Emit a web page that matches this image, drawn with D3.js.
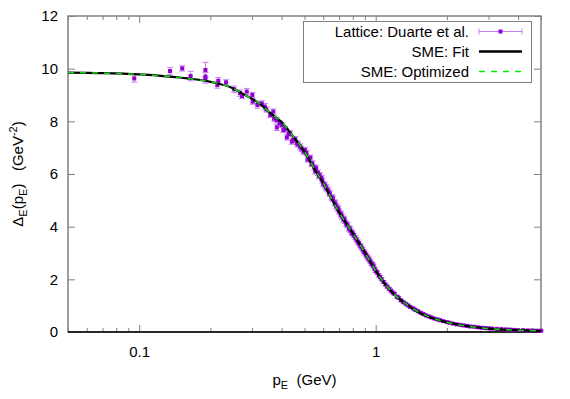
<!DOCTYPE html>
<html>
<head>
<meta charset="utf-8">
<script src="https://cdn.jsdelivr.net/npm/d3@7"></script>
<style>
  body { margin: 0; background: #fff; }
  text { font-family: "Liberation Sans", Arial, sans-serif; }
</style>
</head>
<body>
<script>
// Lattice data (p in GeV, value, error)
const latP = [0.0953, 0.135, 0.152, 0.165, 0.1906, 0.1906, 0.1906, 0.214, 0.216, 0.233, 0.252, 0.267, 0.272, 0.285,
  0.301, 0.302, 0.316, 0.330, 0.340, 0.358, 0.369, 0.382, 0.382, 0.401, 0.407, 0.421, 0.435, 0.442, 0.464, 0.479, 0.502,
  0.51, 0.52, 0.53, 0.54, 0.55, 0.56, 0.57, 0.58, 0.59, 0.60, 0.61, 0.62, 0.63, 0.64, 0.65, 0.66, 0.67, 0.68, 0.69,
  0.70, 0.71, 0.72, 0.73, 0.74, 0.75, 0.76, 0.77, 0.78, 0.79, 0.80, 0.82, 0.84, 0.86, 0.88, 0.90, 0.92, 0.94, 0.96,
  0.98, 1.0, 1.03, 1.06, 1.1, 1.14, 1.18, 1.23, 1.28, 1.34, 1.4, 1.47, 1.55, 1.63, 1.72, 1.82, 1.93, 2.05, 2.2, 2.35,
  2.5, 2.7, 2.9, 3.1, 3.4, 3.7, 4.0, 4.4, 4.8,
  0.345, 0.372, 0.392, 0.412, 0.428, 0.448, 0.457, 0.47, 0.485, 0.495, 0.515, 0.535, 0.555, 0.575, 0.595, 0.615,
  0.635, 0.655, 0.675, 0.695, 0.715, 0.735, 0.755, 0.775, 0.795, 0.81, 0.83, 0.85, 0.87, 0.89, 0.91, 0.93, 0.95,
  0.97, 0.99, 1.015, 1.045, 1.08, 1.12, 1.16, 1.2, 1.25, 1.31, 1.37, 1.44, 1.51, 1.59, 1.68, 1.77, 1.87, 2.0, 2.12,
  2.28, 2.43, 2.6, 2.8, 3.0, 3.25, 3.55, 3.85, 4.2, 4.6, 5.0];
const latV = [9.63, 9.91, 10.01, 9.72, 9.95, 9.70, 9.57, 9.38, 9.54, 9.48, 9.22, 9.07, 8.96, 9.13,
  9.00, 8.75, 8.62, 8.68, 8.56, 8.24, 8.37, 8.05, 7.77, 7.86, 7.67, 7.39, 7.54, 7.23, 7.16, 7.04, 6.91,
  6.80, 6.60, 6.62, 6.40, 6.25, 6.22, 6.05, 5.95, 5.85, 5.62, 5.58, 5.45, 5.38, 5.25, 5.12, 5.05, 4.92, 4.78, 4.72,
  4.58, 4.50, 4.38, 4.28, 4.22, 4.12, 4.05, 3.94, 3.88, 3.80, 3.72, 3.58, 3.42, 3.28, 3.14, 3.00, 2.86, 2.74, 2.60,
  2.50, 2.32, 2.15, 2.00, 1.80, 1.64, 1.50, 1.34, 1.20, 1.07, 0.95, 0.84, 0.73, 0.63, 0.55, 0.48, 0.41, 0.35, 0.29, 0.25,
  0.21, 0.18, 0.15, 0.13, 0.11, 0.09, 0.07, 0.06, 0.05,
  8.45, 8.10, 7.92, 7.70, 7.52, 7.30, 7.32, 7.12, 6.96, 6.85, 6.55, 6.38, 6.10, 5.92, 5.75, 5.50,
  5.28, 5.10, 4.88, 4.66, 4.45, 4.30, 4.08, 3.92, 3.76, 3.66, 3.50, 3.36, 3.22, 3.06, 2.93, 2.80, 2.67,
  2.55, 2.40, 2.26, 2.08, 1.90, 1.72, 1.57, 1.45, 1.30, 1.13, 1.01, 0.90, 0.79, 0.68, 0.59, 0.51, 0.45, 0.38, 0.32,
  0.27, 0.23, 0.20, 0.16, 0.14, 0.12, 0.10, 0.08, 0.07, 0.06, 0.05];
const latE = [0.14, 0.14, 0.10, 0.18, 0.29, 0.15, 0.12, 0.12, 0.12, 0.10, 0.12, 0.12, 0.10, 0.12,
  0.10, 0.10, 0.12, 0.10, 0.12, 0.10, 0.10, 0.10, 0.12, 0.10, 0.10, 0.10, 0.10, 0.10, 0.10, 0.10, 0.10,
  0.10, 0.10, 0.10, 0.10, 0.10, 0.10, 0.10, 0.10, 0.10, 0.10, 0.10, 0.10, 0.10, 0.10, 0.10, 0.10, 0.10, 0.10, 0.10,
  0.10, 0.10, 0.10, 0.10, 0.10, 0.10, 0.10, 0.10, 0.10, 0.10, 0.08, 0.08, 0.08, 0.08, 0.08, 0.08, 0.08, 0.08, 0.08,
  0.08, 0.06, 0.06, 0.06, 0.05, 0.05, 0.05, 0.05, 0.04, 0.04, 0.04, 0.03, 0.03, 0.03, 0.03, 0.02, 0.02, 0.02, 0.02, 0.02,
  0.02, 0.02, 0.02, 0.02, 0.02, 0.02, 0.02, 0.02, 0.02,
  0.10, 0.10, 0.10, 0.10, 0.10, 0.10, 0.10, 0.10, 0.10, 0.10, 0.10, 0.10, 0.10, 0.10, 0.10, 0.10,
  0.10, 0.10, 0.10, 0.10, 0.10, 0.10, 0.08, 0.08, 0.08, 0.08, 0.08, 0.08, 0.08, 0.08, 0.08, 0.08, 0.08,
  0.08, 0.06, 0.06, 0.06, 0.05, 0.05, 0.05, 0.05, 0.04, 0.04, 0.04, 0.03, 0.03, 0.03, 0.03, 0.02, 0.02, 0.02, 0.02,
  0.02, 0.02, 0.02, 0.02, 0.02, 0.02, 0.02, 0.02, 0.02, 0.02, 0.02];

// SME curves
const fitP = [0.05, 0.07, 0.1, 0.13, 0.16, 0.2, 0.25, 0.28, 0.32, 0.36, 0.4, 0.45, 0.5, 0.55, 0.6, 0.7, 0.8, 0.9,
  1.0, 1.1, 1.2, 1.35, 1.5, 1.75, 2.0, 2.5, 3.0, 4.0, 5.0];
const fitV = [9.85, 9.83, 9.78, 9.71, 9.63, 9.50, 9.25, 9.00, 8.70, 8.30, 7.97, 7.40, 6.85, 6.20, 5.65, 4.55, 3.75, 3.02,
  2.32, 1.80, 1.42, 1.05, 0.78, 0.52, 0.37, 0.21, 0.13, 0.07, 0.04];
const optV = fitV.slice();

const xMajor = [0.1, 1];
const xMinor = [0.05, 0.06, 0.07, 0.08, 0.09, 0.2, 0.3, 0.4, 0.5, 0.6, 0.7, 0.8, 0.9, 2, 3, 4, 5];
const yTicks = [0, 2, 4, 6, 8, 10, 12];

const width = 570, height = 399;
const margin = { top: 16, right: 29, bottom: 67, left: 68 };
const iw = width - margin.left - margin.right;
const ih = height - margin.top - margin.bottom;

const svg = d3.select("body").append("svg").attr("width", width).attr("height", height);
const g = svg.append("g").attr("transform", `translate(${margin.left},${margin.top})`);

const x = d3.scaleLog().domain([0.05, 5]).range([0, iw]);
const y = d3.scaleLinear().domain([0, 12]).range([ih, 0]);

const frameCol = "#808080";

// ticks on all four sides (inward)
function tickAxis(axis, tr) {
  const a = g.append("g").attr("transform", tr).call(axis);
  a.select(".domain").remove();
  a.selectAll(".tick line").attr("stroke", frameCol);
  return a;
}
tickAxis(d3.axisBottom(x).tickValues(xMinor).tickSize(-4).tickFormat(""), `translate(0,${ih})`);
tickAxis(d3.axisTop(x).tickValues(xMinor).tickSize(-4).tickFormat(""), "translate(0,0)");
const xb = tickAxis(d3.axisBottom(x).tickValues(xMajor).tickSize(-7).tickPadding(14).tickFormat(d3.format("")), `translate(0,${ih})`);
xb.selectAll("text").attr("font-size", 15).attr("fill", "#000");
tickAxis(d3.axisTop(x).tickValues(xMajor).tickSize(-7).tickFormat(""), "translate(0,0)");
const yl = tickAxis(d3.axisLeft(y).tickValues(yTicks).tickSize(-7).tickPadding(10), "translate(0,0)");
yl.selectAll("text").attr("font-size", 15).attr("fill", "#000");
tickAxis(d3.axisRight(y).tickValues(yTicks).tickSize(-7).tickFormat(""), `translate(${iw},0)`);

// frame
g.append("rect").attr("width", iw).attr("height", ih)
  .attr("fill", "none").attr("stroke", frameCol).attr("stroke-width", 1.5);
g.append("line").attr("x1", 0).attr("x2", iw).attr("y1", ih).attr("y2", ih)
  .attr("stroke", "#000").attr("stroke-width", 1.5);

// lattice points
const lat = latP.map((p, i) => ({ p, v: latV[i], e: latE[i] }));
const errCol = "#c27ff0", ptCol = "#9400d3";
const pts = g.append("g");
pts.selectAll(".eb").data(lat).enter().append("path")
  .attr("d", d => {
    const px = x(d.p), y0 = y(d.v - d.e), y1 = y(d.v + d.e);
    return `M${px},${y0}V${y1}M${px - 3},${y0}H${px + 3}M${px - 3},${y1}H${px + 3}`;
  })
  .attr("fill", "none").attr("stroke", errCol).attr("stroke-width", 1);
pts.selectAll(".pt").data(lat).enter().append("rect")
  .attr("x", d => x(d.p) - 2).attr("y", d => y(d.v) - 2)
  .attr("width", 4).attr("height", 4).attr("fill", ptCol);

// curves
const line = d3.line().x(d => x(d[0])).y(d => y(d[1])).curve(d3.curveMonotoneX);
g.append("path").datum(fitP.map((p, i) => [p, fitV[i]])).attr("d", line)
  .attr("fill", "none").attr("stroke", "#000").attr("stroke-width", 2.2);
g.append("path").datum(fitP.map((p, i) => [p, optV[i]])).attr("d", line)
  .attr("fill", "none").attr("stroke", "#22cc22").attr("stroke-width", 1.5).attr("stroke-dasharray", "6,6");

// legend
const lg = svg.append("g");
lg.append("rect").attr("x", 303.5).attr("y", 21.5).attr("width", 228).attr("height", 61)
  .attr("fill", "#fff").attr("stroke", frameCol).attr("stroke-width", 1);
const rows = [31.5, 51.5, 71.5];
const names = ["Lattice: Duarte et al.", "SME: Fit", "SME: Optimized"];
lg.selectAll(".lt").data(names).enter().append("text")
  .attr("x", 469).attr("y", (d, i) => rows[i] + 5.5).attr("text-anchor", "end")
  .attr("font-size", 15).text(d => d);
lg.append("path").attr("d", `M479,${rows[0]}H522M479,${rows[0] - 3}V${rows[0] + 3}M522,${rows[0] - 3}V${rows[0] + 3}`)
  .attr("stroke", errCol).attr("stroke-width", 1).attr("fill", "none");
lg.append("rect").attr("x", 498.5).attr("y", rows[0] - 2).attr("width", 4).attr("height", 4).attr("fill", ptCol);
lg.append("line").attr("x1", 479).attr("x2", 522).attr("y1", rows[1]).attr("y2", rows[1])
  .attr("stroke", "#000").attr("stroke-width", 2.5);
lg.append("line").attr("x1", 479).attr("x2", 522).attr("y1", rows[2]).attr("y2", rows[2])
  .attr("stroke", "#00ee00").attr("stroke-width", 1.5).attr("stroke-dasharray", "6,6");

// axis titles
const xt = svg.append("text").attr("x", margin.left + iw / 2).attr("y", 385)
  .attr("text-anchor", "middle").attr("font-size", 15);
xt.append("tspan").text("p");
xt.append("tspan").attr("font-size", 11).attr("dy", 4).text("E");
xt.append("tspan").attr("dy", -4).text("  (GeV)").attr("xml:space", "preserve");

const yt = svg.append("text").attr("transform", `translate(23,${margin.top + ih / 2}) rotate(-90)`)
  .attr("text-anchor", "middle").attr("font-size", 15).attr("xml:space", "preserve");
yt.append("tspan").text("Δ");
yt.append("tspan").attr("font-size", 11).attr("dy", 4).text("E");
yt.append("tspan").attr("dy", -4).text("(p");
yt.append("tspan").attr("font-size", 11).attr("dy", 4).text("E");
yt.append("tspan").attr("dy", -4).text(")   (GeV");
yt.append("tspan").attr("font-size", 11).attr("dy", -6).text("-2");
yt.append("tspan").attr("dy", 6).text(")");
</script>
</body>
</html>
